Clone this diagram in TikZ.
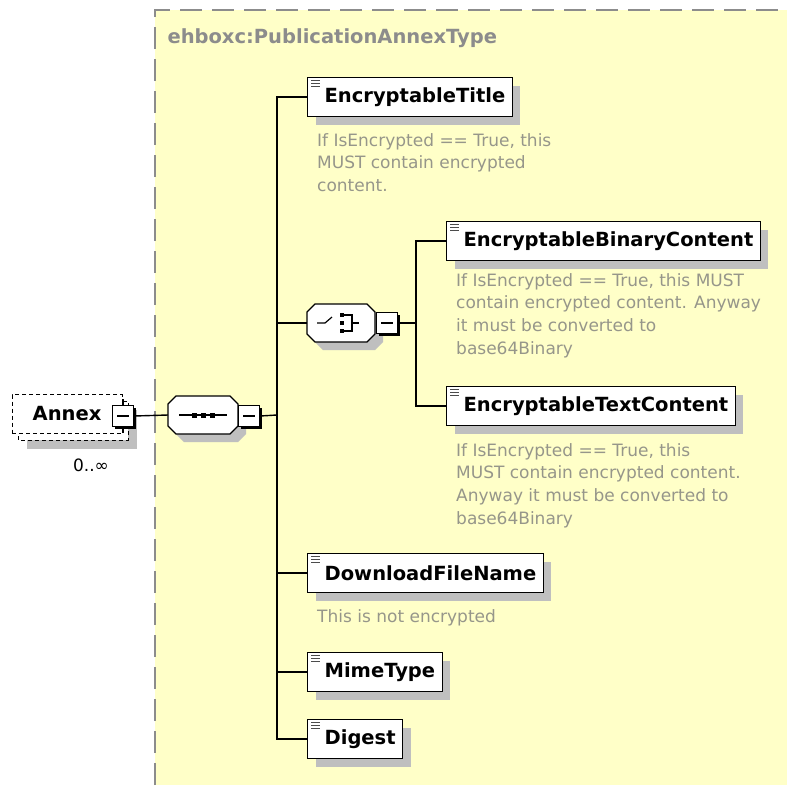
\documentclass[tikz,border=0pt]{standalone}
\usepackage{fontspec}
\setmainfont{DejaVu Sans}
\usetikzlibrary{shadows,calc}
\definecolor{typeyellow}{RGB}{255,255,200}
\definecolor{typegray}{RGB}{140,140,140}
\definecolor{docgray}{RGB}{150,150,138}
\tikzstyle{elem} = [draw, fill=white, line width=1.3pt, minimum height=39pt, inner xsep=7pt, inner ysep=0pt, anchor=west, font=\fontsize{19.5}{23}\selectfont\bfseries, drop shadow={shadow xshift=8pt, shadow yshift=-8pt, fill=black!25, opacity=1}]
\tikzstyle{model} = [minimum width=70pt, minimum height=38pt, inner sep=0pt, outer sep=0pt]
\tikzstyle{octshadow} = [fill=black!25]
\tikzstyle{octline} = [draw, fill=white, line width=1.3pt]
\tikzstyle{minusbox} = [draw, fill=white, line width=1.2pt, minimum width=21pt, minimum height=21pt, inner sep=0pt, drop shadow={shadow xshift=2pt, shadow yshift=-2pt, fill=black, opacity=1}]
\tikzstyle{doc} = [anchor=north west, align=left, inner sep=0pt, text=docgray, font=\fontsize{17}{22.8}\selectfont]
\tikzstyle{conn} = [line width=1.4pt]
\tikzstyle{icon} = [line width=1.1pt, black!70]

\begin{document}
\begin{tikzpicture}[x=1pt,y=-1pt]
	\useasboundingbox (0,0) rectangle (787,785);
	\fill[white] (0,0) rectangle (787,785);
	% complex type area
	\fill[typeyellow] (155,10) rectangle (787,785);
	\draw[typegray, line width=2pt, dash pattern=on 22pt off 10pt] (155,785) -- (155,10) -- (787,10);
	\node[anchor=west, text=typegray, font=\fontsize{19.5}{23}\selectfont\bfseries] (type) at (164,38) {ehboxc:PublicationAnnexType};
	% Annex element
	\draw[line width=1pt, dash pattern=on 4pt off 3pt, fill=white, drop shadow={shadow xshift=9pt, shadow yshift=-9pt, fill=black!25, opacity=1}] (18,401) rectangle (128,440);
	\node[draw, fill=white, line width=1pt, dash pattern=on 4pt off 3pt, minimum width=110pt, minimum height=39pt, inner sep=0pt, font=\fontsize{19.5}{23}\selectfont\bfseries] (annex) at (67,414) {Annex};
	\node[minusbox] (annexm) at (123,416) {\rule{12pt}{1.3pt}};
	\draw[conn] (annexm.north) -- ++(0,-6);
	\draw[conn] (annexm.south) -- ++(0,6);
	\node[font=\fontsize{17}{20}\selectfont] (occ) at (91,465) {0..∞};
	% model groups
	\node[model] (seq) at (203,415) {};
	\node[model, minimum width=68pt] (choice) at (341,323) {};
	\foreach \n in {seq,choice}
		\foreach \s/\st in {8/octshadow,0/octline}
			\path[\st] ($(\n.north west)+(8+\s,\s)$) -- ($(\n.north east)+(-8+\s,\s)$) -- ($(\n.north east)+(\s,8+\s)$) -- ($(\n.south east)+(\s,-8+\s)$) -- ($(\n.south east)+(-8+\s,\s)$) -- ($(\n.south west)+(8+\s,\s)$) -- ($(\n.south west)+(\s,-8+\s)$) -- ($(\n.north west)+(\s,8+\s)$) -- cycle;
	% sequence sign
	\draw[line width=1.2pt] ($(seq.center)+(-24,0)$) -- ($(seq.center)+(24,0)$);
	\foreach \d in {-9,0,9}
		\fill ($(seq.center)+(\d-2.5,-2.5)$) rectangle ++(5,5);
	% choice sign
	\draw[line width=1.2pt] ($(choice.center)+(-24,0)$) -- ($(choice.center)+(-16,0)$) -- ($(choice.center)+(-9,-6)$);
	\foreach \d in {-8,0,8}
		\fill ($(choice.center)+(-1,\d-2)$) rectangle ++(4,4);
	\draw[line width=1.2pt] ($(choice.center)+(3,-8)$) -- ($(choice.center)+(11,-8)$) -- ($(choice.center)+(11,8)$) -- ($(choice.center)+(3,8)$);
	\draw[line width=1.2pt] ($(choice.center)+(11,0)$) -- ($(choice.center)+(18,0)$);
	\node[minusbox] (seqm) at (249,416) {\rule{12pt}{1.3pt}};
	\node[minusbox] (choicem) at (387,323) {\rule{12pt}{1.3pt}};
	\draw[conn] (annexm.east) -- (seq.west);
	\coordinate (bus) at (277,415);
	\draw[conn] (seqm.east) -- (bus);
	\coordinate (cbus) at (416,323);
	\draw[conn] (choicem.east) -- (cbus);
	% children
	\node[elem] (title) at (307,97) {\hspace*{10pt}EncryptableTitle};
	\node[doc] (titledoc) at (317,133) {If IsEncrypted == True, this\\MUST contain encrypted\\content.};
	\node[elem] (binary) at (446,241) {\hspace*{10pt}EncryptableBinaryContent};
	\node[doc] (binarydoc) at (456,273) {If IsEncrypted == True, this MUST\\contain encrypted content. Anyway\\it must be converted to\\base64Binary};
	\node[elem] (textc) at (446,406) {\hspace*{10pt}EncryptableTextContent};
	\node[doc] (textcdoc) at (456,443) {If IsEncrypted == True, this\\MUST contain encrypted content.\\Anyway it must be converted to\\base64Binary};
	\node[elem] (filename) at (307,573) {\hspace*{10pt}DownloadFileName};
	\node[doc] (filenamedoc) at (317,609) {This is not encrypted};
	\node[elem] (mime) at (307,672) {\hspace*{10pt}MimeType};
	\node[elem] (digest) at (307,739) {\hspace*{10pt}Digest};
	\foreach \n in {title,choice,filename,mime,digest}
		\draw[conn] (bus) |- (\n.west);
	\foreach \n in {binary,textc}
		\draw[conn] (cbus) |- (\n.west);
	% element icons
	\foreach \n in {title,binary,textc,filename,mime,digest}
		\foreach \k in {4,7,10}
			\draw[icon] ($(\n.north west)+(4,\k)$) -- ++(9,0);
\end{tikzpicture}
\end{document}
